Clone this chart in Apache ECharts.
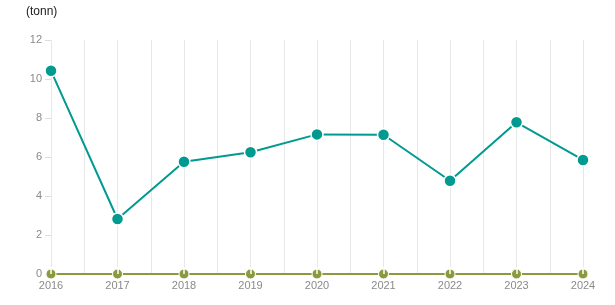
<!DOCTYPE html>
<html><head><meta charset="utf-8">
<script src="https://cdn.jsdelivr.net/npm/echarts@6/dist/echarts.min.js"></script>
<style>html,body{margin:0;padding:0;background:#fff}#c{width:615px;height:305px}</style>
</head><body><div id="c"></div>
<script>
const years = [2016, 2017, 2018, 2019, 2020, 2021, 2022, 2023, 2024];
const mainValues = [10.42, 2.82, 5.76, 6.24, 7.16, 7.14, 4.78, 7.78, 5.85];
const zeroValues = [0, 0, 0, 0, 0, 0, 0, 0, 0];
const yTicks = [0, 2, 4, 6, 8, 10, 12];
const unitLabel = '(tonn)';

const chart = echarts.init(document.getElementById('c'), null, {renderer: 'canvas'});
chart.setOption({
  animation: false,
  textStyle: {fontFamily: 'Liberation Sans, Arial, sans-serif'},
  title: {text: unitLabel, left: 21, top: 1, textStyle: {fontSize: 12, fontWeight: 'normal', color: '#222'}},
  grid: {left: 51, right: 32, top: 40, bottom: 31},
  xAxis: [{
    type: 'value', min: years[0], max: years[years.length - 1], interval: 0.5,
    axisLine: {show: false},
    axisTick: {show: false},
    axisLabel: {color: '#8a8a8a', fontSize: 11, margin: 6,
      formatter: v => Number.isInteger(v) ? String(v) : ''},
    splitLine: {show: true, lineStyle: {color: '#e8e8e8', width: 1}}
  }, {
    type: 'value', min: years[0], max: years[years.length - 1], interval: 1,
    position: 'bottom', z: 10,
    axisLine: {show: false},
    axisTick: {show: true, inside: true, length: 7, lineStyle: {color: '#ffffff', width: 1.5}},
    axisLabel: {show: false},
    splitLine: {show: false}
  }],
  yAxis: {
    type: 'value', min: yTicks[0], max: yTicks[yTicks.length - 1], interval: 2,
    axisLine: {show: false},
    axisTick: {show: true, length: 6, lineStyle: {color: '#dddddd'}},
    axisLabel: {color: '#8a8a8a', fontSize: 11, margin: 9},
    splitLine: {show: false}
  },
  series: [
    {
      type: 'line', data: years.map((y, i) => [y, zeroValues[i]]),
      symbol: 'circle', symbolSize: 10,
      lineStyle: {color: '#8a9a3e', width: 2},
      itemStyle: {color: '#8a9a3e', borderColor: '#fff', borderWidth: 1}, z: 2
    },
    {
      type: 'line', data: years.map((y, i) => [y, mainValues[i]]),
      symbol: 'circle', symbolSize: 12,
      lineStyle: {color: '#009a90', width: 2},
      itemStyle: {color: '#009a90', borderColor: '#fff', borderWidth: 1.5}, z: 3
    }
  ]
});
</script></body></html>
